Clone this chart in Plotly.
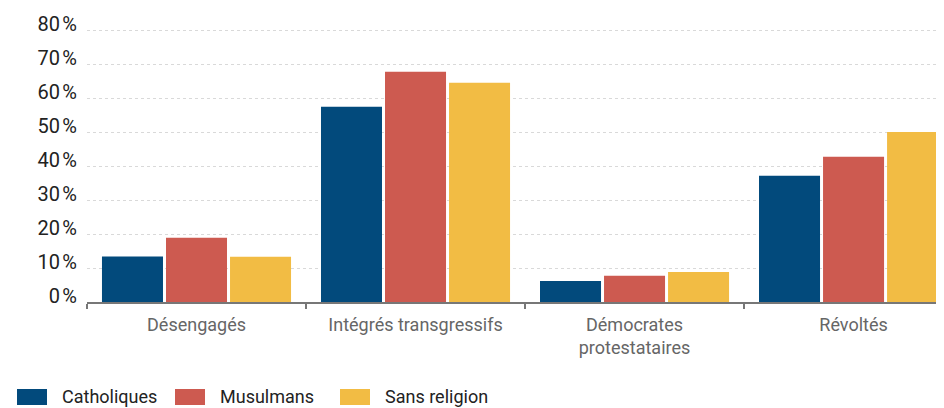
import plotly.graph_objects as go

categories = ["Désengagés", "Intégrés transgressifs", "Démocrates<br>protestataires", "Révoltés"]
series_names = ["Catholiques", "Musulmans", "Sans religion"]
catholiques = [13.4, 57.5, 6.2, 37.2]
musulmans = [18.9, 67.8, 7.7, 42.8]
sans_religion = [13.3, 64.6, 8.8, 50.1]
tick_values = [0, 10, 20, 30, 40, 50, 60, 70, 80]
tick_labels = ["0\u202f%", "10\u202f%", "20\u202f%", "30\u202f%", "40\u202f%", "50\u202f%", "60\u202f%", "70\u202f%", "80\u202f%"]

colors = ["#024a7c", "#cd5a50", "#f2bc44"]
FONT = "Roboto, Arial"

# page body has an 8px margin -> compensate so the plot lands where the reference has it
OFF = 8
W, H = 944, 408
Y_MAX = 81
PX_PER_UNIT = 3.4
PB = 302
PT = round(PB - Y_MAX * PX_PER_UNIT)
PL, PR = 87, 944  # plot area edges in window pixels

fig = go.Figure()
for name, vals, col in zip(series_names, [catholiques, musulmans, sans_religion], colors):
    fig.add_trace(go.Bar(x=categories, y=vals, name=name, marker_color=col,
                         marker_line_width=0, showlegend=False, hoverinfo="skip"))

fig.update_layout(
    width=W, height=H,
    margin=dict(l=PL - OFF, r=W - (PR - OFF), t=PT - OFF, b=H - (PB - OFF), pad=0),
    paper_bgcolor="white", plot_bgcolor="white",
    barmode="group", bargap=0.123, bargroupgap=0.047,
    font=dict(family=FONT, size=18, color="#222"),
    xaxis=dict(
        type="category", range=[-0.5, 3.413], automargin=False,
        showline=True, linecolor="#777", linewidth=2,
        ticks="outside", tickson="boundaries", ticklen=5, tickcolor="#777", tickwidth=2,
        tickfont=dict(family=FONT, size=18, color="#666"),
        ticklabelstandoff=5,
        showgrid=False, fixedrange=True,
    ),
    yaxis=dict(
        range=[0, Y_MAX], tickvals=tick_values, ticktext=tick_labels, automargin=False,
        showgrid=True, gridcolor="#d9d9d9", griddash="dot", gridwidth=1,
        zeroline=False, showline=False, ticks="",
        tickfont=dict(family=FONT, size=20, color="#222"),
        ticklabelstandoff=9, ticklabelshift=-6,
    ),
)

def px_x(px):
    return (px - PL) / (PR - PL)

def px_y(py):
    return (PB - py) / (PB - PT)

# custom legend (swatches + labels) in paper coordinates
legend_x = [17, 175, 340]
for name, col, lx in zip(series_names, colors, legend_x):
    fig.add_shape(type="rect", xref="paper", yref="paper",
                  x0=px_x(lx), x1=px_x(lx + 30),
                  y0=px_y(405), y1=px_y(389),
                  fillcolor=col, line_width=0)
    fig.add_annotation(xref="paper", yref="paper", x=px_x(lx + 43),
                       y=px_y(396), text=name, showarrow=False,
                       xanchor="left", yanchor="middle",
                       font=dict(family=FONT, size=18, color="#222"))

fig.write_html("out.html")
